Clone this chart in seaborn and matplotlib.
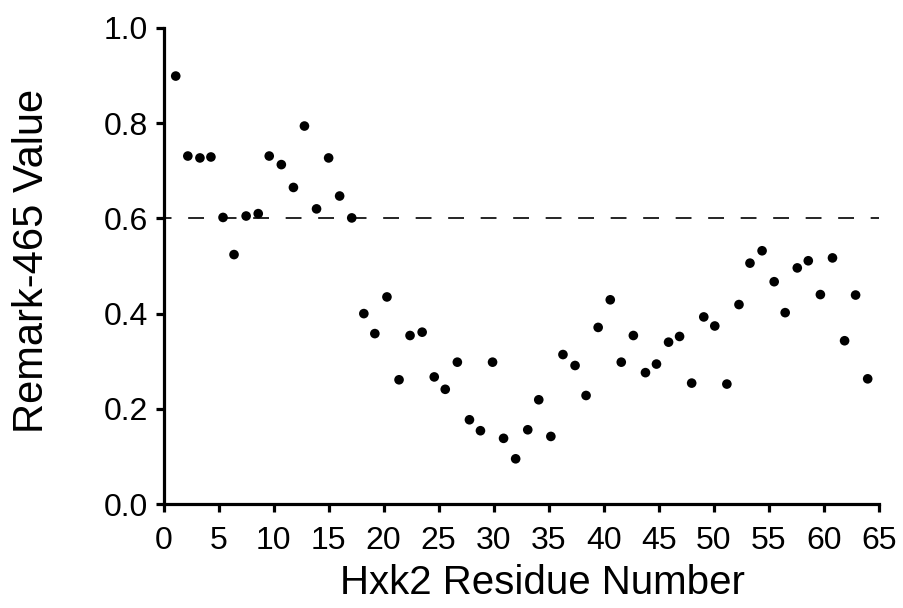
import matplotlib
matplotlib.use("Agg")
import matplotlib.pyplot as plt
import numpy as np
import pandas as pd
import seaborn as sns

# residue positions (60 evenly spaced points)
residue = [1.1, 2.2, 3.3, 4.3, 5.4, 6.4, 7.5, 8.6, 9.6, 10.7,
           11.8, 12.8, 13.9, 15.0, 16.0, 17.1, 18.2, 19.2, 20.3, 21.4,
           22.4, 23.5, 24.6, 25.6, 26.7, 27.8, 28.8, 29.9, 30.9, 32.0,
           33.1, 34.1, 35.2, 36.3, 37.4, 38.4, 39.5, 40.6, 41.6, 42.7,
           43.8, 44.8, 45.9, 46.9, 48.0, 49.1, 50.1, 51.2, 52.3, 53.3,
           54.4, 55.5, 56.5, 57.6, 58.6, 59.7, 60.8, 61.9, 62.9, 64.0]
remark_value = [0.899, 0.731, 0.727, 0.729, 0.602, 0.524, 0.605, 0.610, 0.731, 0.713,
                0.665, 0.794, 0.620, 0.727, 0.647, 0.601, 0.400, 0.358, 0.435, 0.261,
                0.354, 0.361, 0.267, 0.241, 0.298, 0.177, 0.154, 0.298, 0.138, 0.095,
                0.156, 0.219, 0.142, 0.314, 0.291, 0.228, 0.371, 0.429, 0.298, 0.354,
                0.276, 0.294, 0.340, 0.352, 0.254, 0.393, 0.374, 0.252, 0.419, 0.506,
                0.532, 0.467, 0.402, 0.496, 0.511, 0.440, 0.517, 0.343, 0.439, 0.263]
threshold = 0.6
x_ticks = list(range(0, 70, 5))
y_ticks = [0.0, 0.2, 0.4, 0.6, 0.8, 1.0]

sns.set_style("ticks")
plt.rcParams['font.family'] = ['Liberation Sans', 'DejaVu Sans']
plt.rcParams['text.color'] = 'black'
plt.rcParams['axes.labelcolor'] = 'black'

df = pd.DataFrame({'residue': residue, 'value': remark_value})

fig = plt.figure(figsize=(9.04, 6.08), dpi=100)
ax = fig.add_axes([0.181, 0.171, 0.791, 0.783])

ax.plot([0, 65], [threshold, threshold], color='black', lw=1.2,
        linestyle=(5, (9.5, 10)), zorder=1)
sns.scatterplot(data=df, x='residue', y='value', ax=ax, color='black',
                s=48, edgecolor='none', zorder=3, clip_on=False)

ax.set_xlim(0, 65)
ax.set_ylim(0, 1.0)
ax.set_xticks(x_ticks)
ax.set_yticks(y_ticks)
ax.set_yticklabels([f"{v:.1f}" for v in y_ticks])

for side in ['top', 'right']:
    ax.spines[side].set_visible(False)
for side in ['left', 'bottom']:
    ax.spines[side].set_linewidth(2.3)
    ax.spines[side].set_color('black')
ax.tick_params(axis='both', direction='out', length=6, width=2.3,
               colors='black', labelsize=23)
ax.tick_params(axis='x', pad=10)
ax.tick_params(axis='y', pad=5)

ax.set_xlabel("Hxk2 Residue Number", fontsize=29)
ax.set_ylabel("Remark-465 Value", fontsize=30)
ax.xaxis.set_label_coords(0.53, -0.125)
ax.yaxis.set_label_coords(-0.156, 0.51)

fig.savefig("out.png", dpi=100)
